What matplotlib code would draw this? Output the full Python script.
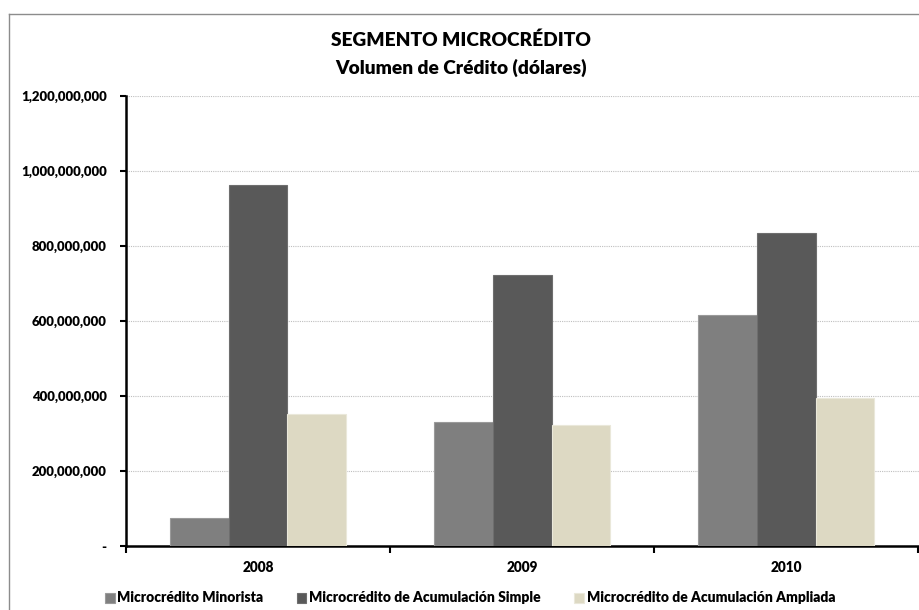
import matplotlib
matplotlib.use("Agg")
import matplotlib.pyplot as plt
from matplotlib.lines import Line2D
from matplotlib.ticker import FuncFormatter, FixedLocator
import numpy as np

plt.rcParams['font.family'] = ['Lato', 'DejaVu Sans']
plt.rcParams['font.weight'] = 800

years = ["2008", "2009", "2010"]
series_names = ["Microcrédito Minorista",
                "Microcrédito de Acumulación Simple",
                "Microcrédito de Acumulación Ampliada"]
minorista = [75_000_000, 331_000_000, 617_000_000]
acum_simple = [962_000_000, 723_000_000, 834_000_000]
acum_ampliada = [351_000_000, 323_000_000, 394_000_000]
y_ticks = [0, 200_000_000, 400_000_000, 600_000_000, 800_000_000,
           1_000_000_000, 1_200_000_000]

colors = ["#7F7F7F", "#595959", "#DDD9C3"]
edges = ["#9A9A9A", "#6E6E6E", "#EAE8DA"]

fig = plt.figure(figsize=(9.19, 6.10), dpi=100)
ax = fig.add_axes([126 / 919, 1 - 546 / 610, (918.5 - 126) / 919, (546 - 96) / 610])

x = np.arange(len(years))
w = 1 / 4.5
for i, (vals, name) in enumerate(zip([minorista, acum_simple, acum_ampliada], series_names)):
    ax.bar(x + (i - 1) * w, vals, width=w, color=colors[i], edgecolor=edges[i],
           linewidth=0.8, label=name, zorder=3)

ax.set_xlim(-0.5, len(years) - 0.5)
ax.set_ylim(0, 1_200_000_000)

ax.yaxis.set_major_locator(FixedLocator(y_ticks))
ax.yaxis.set_major_formatter(FuncFormatter(lambda v, p: "-" if v == 0 else f"{int(v):,}"))
ax.tick_params(axis='y', direction='out', length=4, width=1.5, pad=10,
               labelsize=9.5, colors='black')
ax.yaxis.grid(True, linestyle=(0, (1, 1)), color='#BFBFBF', linewidth=0.8, zorder=0)

ax.set_xticks(x)
ax.set_xticklabels(years, fontsize=9.8, fontweight=800)
ax.tick_params(axis='x', which='major', length=0, pad=11)
ax.set_xticks(np.arange(-0.5, len(years)), minor=True)
ax.tick_params(axis='x', which='minor', direction='out', length=5, width=1.5)

for s in ['top', 'right']:
    ax.spines[s].set_visible(False)
for s in ['left', 'bottom']:
    ax.spines[s].set_linewidth(1.8)
    ax.spines[s].set_color('black')

for lbl in ax.get_yticklabels():
    lbl.set_fontweight(800)

fig.text(0.5015, 1 - 40 / 610, "SEGMENTO MICROCRÉDITO", ha='center', va='center',
         fontsize=13.8, fontweight=800)
fig.text(0.5015, 1 - 68 / 610, "Volumen de Crédito (dólares)", ha='center', va='center',
         fontsize=13.8, fontweight=800)

fig.legend(loc='center', bbox_to_anchor=(470 / 919, 1 - 598 / 610), ncol=3,
           frameon=False, handlelength=0.7, handleheight=0.7,
           handletextpad=0.2, columnspacing=2.4, borderaxespad=0,
           prop={'weight': 800, 'size': 10})

# chart area border (left and top edges)
fig.add_artist(Line2D([9 / 919, 9 / 919], [0, 1 - 14 / 610], transform=fig.transFigure,
                      color='#8C8C8C', linewidth=1.0))
fig.add_artist(Line2D([9 / 919, 1], [1 - 14 / 610, 1 - 14 / 610], transform=fig.transFigure,
                      color='#8C8C8C', linewidth=1.0))

fig.savefig("out.png", dpi=100)
